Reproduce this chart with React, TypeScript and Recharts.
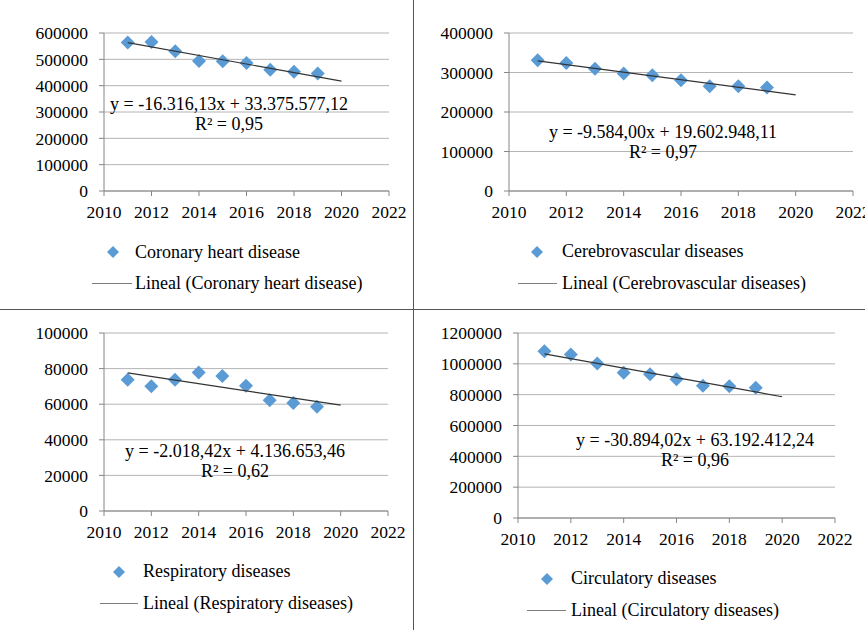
import React from "react";
import { ScatterChart, Scatter, XAxis, YAxis, CartesianGrid } from "recharts";

// values
const years = [2011, 2012, 2013, 2014, 2015, 2016, 2017, 2018, 2019];
const trendYears = [2011, 2020];
const xTicks = [2010, 2012, 2014, 2016, 2018, 2020, 2022];

const coronary = [564000, 566000, 531000, 494000, 493000, 486000, 460000, 453000, 446000];
const coronaryTrend = [563640, 416995];
const cerebro = [330700, 324000, 309800, 297300, 293000, 280500, 265400, 265400, 262000];
const cerebroTrend = [329524, 243268];
const respiratory = [73800, 70100, 73800, 77800, 75900, 70300, 62200, 60700, 58500];
const respiratoryTrend = [77611, 59445];
const circulatory = [1081500, 1060000, 1001800, 941500, 932800, 900500, 857400, 855300, 844500];
const circulatoryTrend = [1064538, 786492];

const FONT = '"Liberation Serif", "Times New Roman", serif';
const BLUE = "#5b9bd5";
const AXIS = "#868686";
const GRID = "#b4b4b4";
const TREND = "#333333";

const Diamond = (props: any) => {
  const { cx, cy } = props;
  const r = 7;
  return <polygon points={`${cx},${cy - r} ${cx + r},${cy} ${cx},${cy + r} ${cx - r},${cy}`} fill={BLUE} />;
};

const NoShape = () => <g />;

type PanelProps = {
  left: number;
  top: number;
  width: number;
  height: number;
  yWidth: number;
  marginTop: number;
  marginRight: number;
  xHeight: number;
  yTicks: number[];
  values: number[];
  trend: number[];
  name: string;
  eq: string;
  r2: string;
  eqX: number;
  eqTop: number;
  diamondX: number;
  diamondY: number;
  textX: number;
  base1: number;
  lineX1: number;
  lineX2: number;
  base2: number;
};

function Panel(p: PanelProps) {
  const points = years.map((y, i) => ({ x: y, y: p.values[i] }));
  const trendPts = trendYears.map((y, i) => ({ x: y, y: p.trend[i] }));
  const textStyle: React.CSSProperties = {
    position: "absolute",
    fontFamily: FONT,
    fontSize: 18,
    lineHeight: "20px",
    color: "#000",
    whiteSpace: "nowrap",
  };
  const tickStyle = { fill: "#000", fontSize: 17.5, fontFamily: FONT };
  return (
    <>
      <div style={{ position: "absolute", left: p.left, top: p.top }}>
        <ScatterChart
          width={p.width}
          height={p.height}
          margin={{ top: p.marginTop, right: p.marginRight, left: 0, bottom: 0 }}
          style={{ fontFamily: FONT }}
        >
          <CartesianGrid vertical={false} stroke={GRID} />
          <XAxis
            type="number"
            dataKey="x"
            domain={[2010, 2022]}
            ticks={xTicks}
            height={p.xHeight}
            tickSize={5}
            tickMargin={10}
            stroke={AXIS}
            tick={tickStyle}
            interval={0}
          />
          <YAxis
            type="number"
            dataKey="y"
            domain={[0, p.yTicks[p.yTicks.length - 1]]}
            ticks={p.yTicks}
            width={p.yWidth}
            tickSize={5}
            tickMargin={11}
            stroke={AXIS}
            tick={tickStyle}
            interval={0}
          />
          <Scatter data={points} shape={Diamond} isAnimationActive={false} />
          <Scatter
            data={trendPts}
            shape={NoShape}
            line={{ stroke: TREND, strokeWidth: 1.2 }}
            isAnimationActive={false}
          />
        </ScatterChart>
      </div>
      <div style={{ ...textStyle, left: p.eqX - 150, width: 300, top: p.eqTop, textAlign: "center" }}>
        {p.eq}
        <br />
        {p.r2}
      </div>
      <svg
        style={{ position: "absolute", left: p.diamondX - 6, top: p.diamondY - 6 }}
        width={12}
        height={12}
      >
        <polygon points="6,0 12,6 6,12 0,6" fill={BLUE} />
      </svg>
      <div style={{ ...textStyle, left: p.textX, top: p.base1 - 16 }}>{p.name}</div>
      <div
        style={{
          position: "absolute",
          left: p.lineX1,
          width: p.lineX2 - p.lineX1,
          top: p.base2 - 6,
          height: 1,
          background: "#7f7f7f",
        }}
      />
      <div style={{ ...textStyle, left: p.textX, top: p.base2 - 16 }}>{`Lineal (${p.name})`}</div>
    </>
  );
}

export default function App() {
  return (
    <div
      style={{
        position: "absolute",
        left: 0,
        top: 0,
        width: 865,
        height: 630,
        background: "#fff",
        overflow: "hidden",
      }}
    >
      <Panel
        left={0} top={0} width={413} height={309}
        yWidth={104} marginTop={33} marginRight={24} xHeight={118}
        yTicks={[0, 100000, 200000, 300000, 400000, 500000, 600000]}
        values={coronary} trend={coronaryTrend}
        name="Coronary heart disease"
        eq="y = -16.316,13x + 33.375.577,12" r2="R² = 0,95" eqX={229} eqTop={94}
        diamondX={113} diamondY={252} textX={135} base1={258}
        lineX1={92} lineX2={132} base2={289}
      />
      <Panel
        left={414} top={0} width={451} height={309}
        yWidth={95} marginTop={33} marginRight={12} xHeight={118}
        yTicks={[0, 100000, 200000, 300000, 400000]}
        values={cerebro} trend={cerebroTrend}
        name="Cerebrovascular diseases"
        eq="y = -9.584,00x + 19.602.948,11" r2="R² = 0,97" eqX={663} eqTop={122}
        diamondX={537} diamondY={252} textX={562} base1={257}
        lineX1={518} lineX2={557} base2={289}
      />
      <Panel
        left={0} top={310} width={413} height={320}
        yWidth={104} marginTop={23} marginRight={25} xHeight={119}
        yTicks={[0, 20000, 40000, 60000, 80000, 100000]}
        values={respiratory} trend={respiratoryTrend}
        name="Respiratory diseases"
        eq="y = -2.018,42x + 4.136.653,46" r2="R² = 0,62" eqX={235} eqTop={441}
        diamondX={119} diamondY={572} textX={143} base1={577}
        lineX1={100} lineX2={138} base2={609}
      />
      <Panel
        left={414} top={310} width={451} height={320}
        yWidth={104} marginTop={23} marginRight={30} xHeight={112}
        yTicks={[0, 200000, 400000, 600000, 800000, 1000000, 1200000]}
        values={circulatory} trend={circulatoryTrend}
        name="Circulatory diseases"
        eq="y = -30.894,02x + 63.192.412,24" r2="R² = 0,96" eqX={695} eqTop={430}
        diamondX={547} diamondY={579} textX={571} base1={584}
        lineX1={527} lineX2={566} base2={616}
      />
      <div style={{ position: "absolute", left: 413, top: 0, width: 1, height: 630, background: "#555" }} />
      <div style={{ position: "absolute", left: 0, top: 309, width: 865, height: 1, background: "#555" }} />
    </div>
  );
}
